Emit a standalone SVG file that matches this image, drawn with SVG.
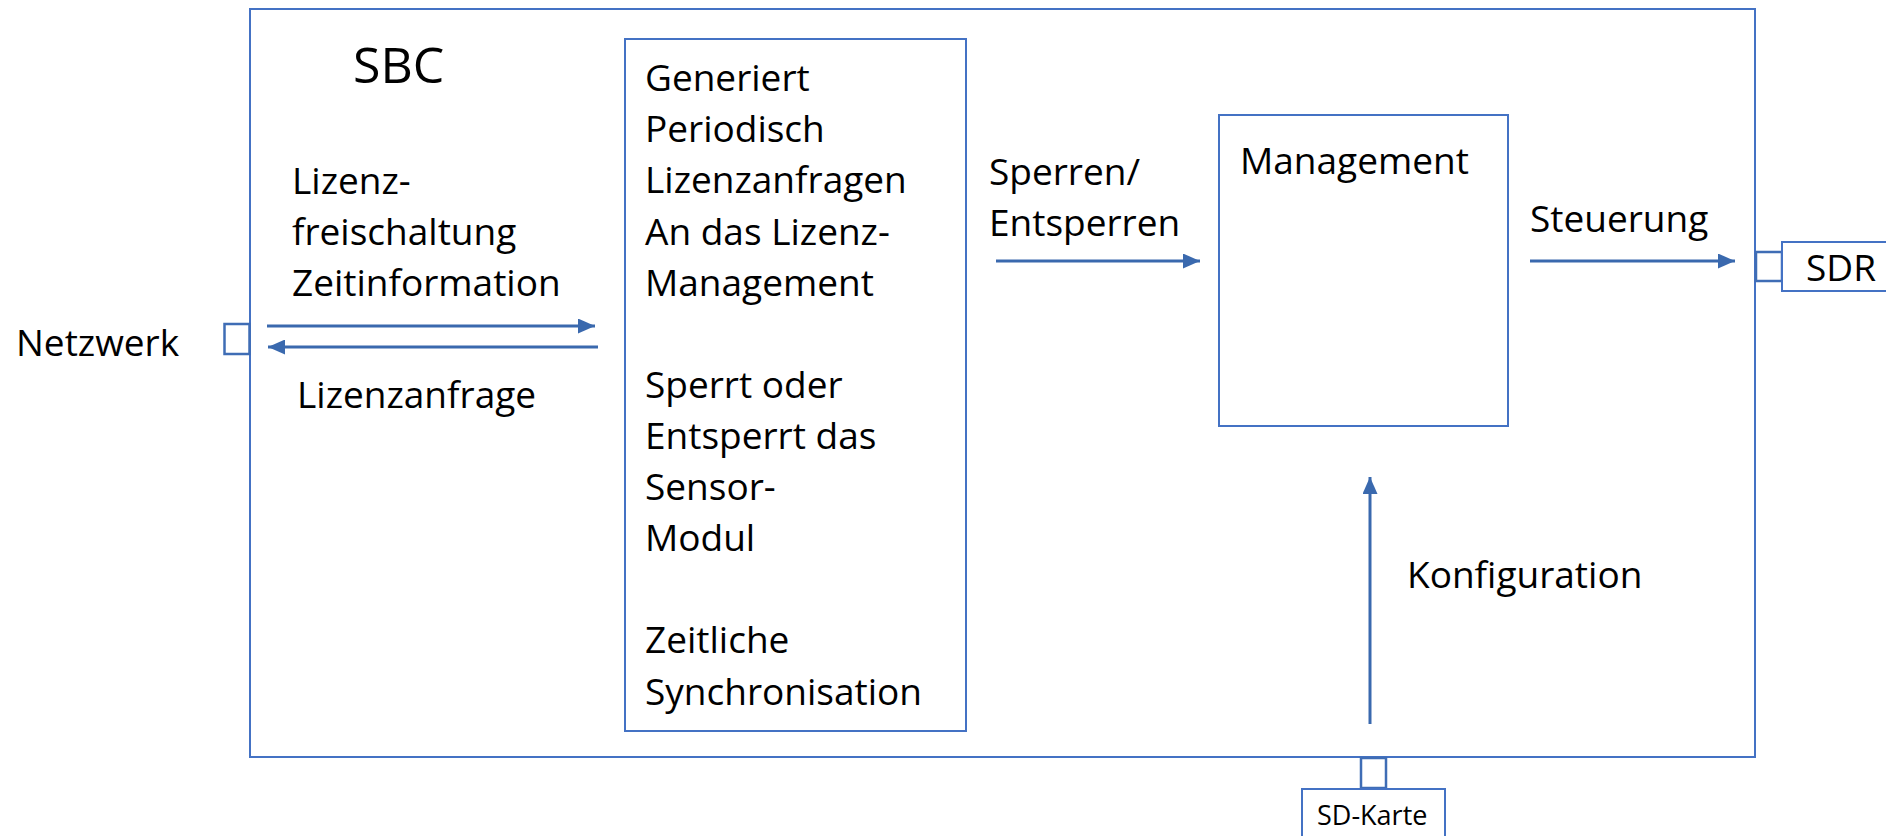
<svg xmlns="http://www.w3.org/2000/svg" width="1886" height="836" viewBox="0 0 1886 836">
  <style>
    .box { fill: #ffffff; stroke: #4472C4; stroke-width: 2; }
    .port { fill: #ffffff; stroke: #3F6DB5; stroke-width: 2.5; }
    .lbl { font-family: "Open Sans", "Liberation Sans", sans-serif; font-size: 37px; fill: #000000; }
    .conn { fill: none; stroke: #3A69AE; stroke-width: 3; }
  </style>
  <defs>
    <marker id="head" markerUnits="userSpaceOnUse" markerWidth="17" markerHeight="15" refX="17" refY="7.5" orient="auto">
      <path d="M0,0 L17,7.5 L0,15 z" fill="#3A69AE"/>
    </marker>
  </defs>

  <!-- SBC enclosure -->
  <g id="sbc">
    <rect class="box" x="250" y="9" width="1505" height="748"/>
    <text class="lbl" x="353" y="83" style="font-size:50px">SBC</text>
  </g>

  <!-- Network side -->
  <g id="netzwerk">
    <rect class="port" x="224.5" y="324" width="25" height="30"/>
    <text class="lbl" x="16" y="356">Netzwerk</text>
  </g>

  <!-- Licence logic block -->
  <g id="lizenzlogik">
    <rect class="box" x="625" y="39" width="341" height="692"/>
    <text class="lbl" x="645">
      <tspan x="645" y="91">Generiert</tspan>
      <tspan x="645" y="142">Periodisch</tspan>
      <tspan x="645" y="193">Lizenzanfragen</tspan>
      <tspan x="645" y="245">An das Lizenz-</tspan>
      <tspan x="645" y="296">Management</tspan>
      <tspan x="645" y="398">Sperrt oder</tspan>
      <tspan x="645" y="449">Entsperrt das</tspan>
      <tspan x="645" y="500">Sensor-</tspan>
      <tspan x="645" y="551">Modul</tspan>
      <tspan x="645" y="653">Zeitliche</tspan>
      <tspan x="645" y="705">Synchronisation</tspan>
    </text>
  </g>

  <!-- Management block -->
  <g id="management">
    <rect class="box" x="1219" y="115" width="289" height="311"/>
    <text class="lbl" x="1240" y="174">Management</text>
  </g>

  <!-- SDR interface -->
  <g id="sdr">
    <rect class="port" x="1756" y="252" width="26" height="29"/>
    <rect class="box" x="1782" y="242" width="130" height="49"/>
    <text class="lbl" x="1806" y="281">SDR</text>
  </g>

  <!-- SD card interface -->
  <g id="sdkarte">
    <rect class="port" x="1361" y="758" width="25" height="30"/>
    <rect class="box" x="1302" y="789" width="143" height="60"/>
    <text class="lbl" x="1317" y="825" style="font-size:27px">SD-Karte</text>
  </g>

  <!-- Connectors -->
  <g id="connectors">
    <line class="conn" x1="267" y1="326" x2="595" y2="326" marker-end="url(#head)"/>
    <line class="conn" x1="598" y1="347" x2="268" y2="347" marker-end="url(#head)"/>
    <line class="conn" x1="996" y1="261" x2="1200" y2="261" marker-end="url(#head)"/>
    <line class="conn" x1="1530" y1="261" x2="1735" y2="261" marker-end="url(#head)"/>
    <line class="conn" x1="1370" y1="724" x2="1370" y2="477" marker-end="url(#head)"/>
  </g>

  <!-- Connector labels -->
  <g id="labels">
    <text class="lbl">
      <tspan x="292" y="194">Lizenz-</tspan>
      <tspan x="292" y="245">freischaltung</tspan>
      <tspan x="292" y="296">Zeitinformation</tspan>
    </text>
    <text class="lbl" x="297" y="408">Lizenzanfrage</text>
    <text class="lbl">
      <tspan x="989" y="185">Sperren/</tspan>
      <tspan x="989" y="236">Entsperren</tspan>
    </text>
    <text class="lbl" x="1530" y="232">Steuerung</text>
    <text class="lbl" x="1407" y="588">Konfiguration</text>
  </g>
</svg>
